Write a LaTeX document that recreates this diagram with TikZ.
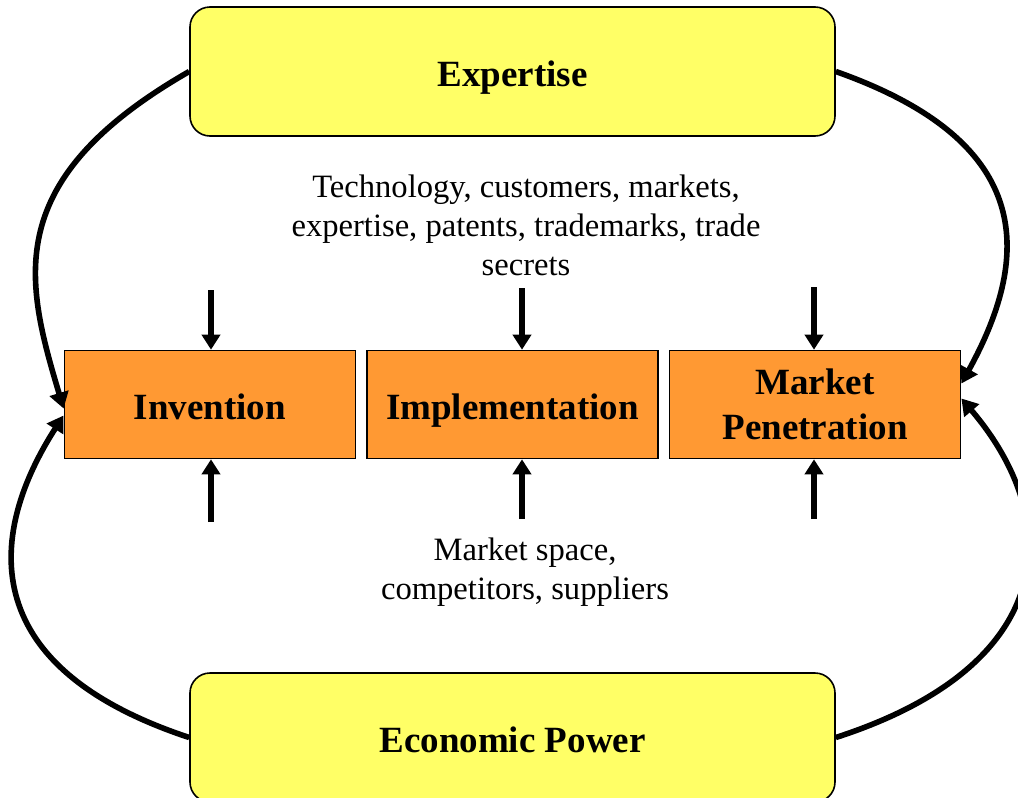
\documentclass[tikz,border=0pt]{standalone}
\usepackage{fontspec}
\setmainfont{Liberation Serif}
\usetikzlibrary{positioning,arrows.meta,calc}
\definecolor{PillarYellow}{HTML}{FFFF66}
\definecolor{PhaseOrange}{HTML}{FF9933}
\tikzset{
  pillar/.style={draw=black, line width=0.8pt, fill=PillarYellow,
                 rounded corners=10pt, minimum width=322.5pt,
                 minimum height=64.5pt, inner sep=0pt,
                 text height=14.5pt, text depth=0pt,
                 font=\fontsize{18.5}{22.2}\selectfont\bfseries},
  phase/.style={draw=black, line width=0.8pt, fill=PhaseOrange,
                minimum width=145.5pt, minimum height=54pt, inner sep=0pt,
                align=center, font=\fontsize{18.5}{22.5}\selectfont\bfseries},
  oneline/.style={text height=15pt, text depth=0pt},
  note/.style={align=center, font=\fontsize{16.3}{19.5}\selectfont},
  feed/.style={line width=3.3pt, -{Triangle[width=9pt,length=7.5pt]}},
  cyclearc/.style={line width=2.8pt, -{Triangle[width=9.5pt,length=8pt]}}
}

\begin{document}
\begin{tikzpicture}[x=0.5pt, y=-0.5pt]
  \useasboundingbox (0,0) rectangle (1018,798);

  % the two pillars
  \node[pillar] (expert) at (512.5,71.5) {Expertise};
  \node[pillar] (econ) at (512.5,737.5) {Economic Power};

  % the three phases
  \node[phase, oneline] (impl) at (512.5,404.5) {Implementation};
  \node[phase, oneline, left=5pt of impl] (inv) {Invention};
  \node[phase, right=5pt of impl] (mkt) {Market\\Penetration};

  % side notes
  \node[note] (assets) at (526,225)
    {Technology, customers, markets,\\expertise, patents, trademarks, trade\\secrets};
  \node[note] (env) at (525,572) {Market space,\\competitors, suppliers};

  % inputs from above and below
  \coordinate (a1) at (211,290);
  \coordinate (a2) at (522,288);
  \coordinate (a3) at (814,287);
  \coordinate (b1) at (211,522);
  \coordinate (b2) at (522,519);
  \coordinate (b3) at (814,519);
  \draw[feed] (a1) -- (a1 |- inv.north);
  \draw[feed] (a2) -- (a2 |- impl.north);
  \draw[feed] (a3) -- (a3 |- mkt.north);
  \draw[feed] (b1) -- (b1 |- inv.south);
  \draw[feed] (b2) -- (b2 |- impl.south);
  \draw[feed] (b3) -- (b3 |- mkt.south);

  % outer loops
  \draw[cyclearc] (expert.west) .. controls (0,180) and (25,280) .. ($(inv.west)+(0,4)$);
  \draw[cyclearc] (expert.east) .. controls (1030,140) and (1035,250) .. ($(mkt.east)+(0,-21)$);
  \draw[cyclearc] (econ.west) .. controls (-30,665) and (-10,530) .. ($(inv.west)+(0,11)$);
  \draw[cyclearc] (econ.east) .. controls (1060,665) and (1065,520) .. ($(mkt.east)+(0,-6)$);
\end{tikzpicture}
\end{document}
